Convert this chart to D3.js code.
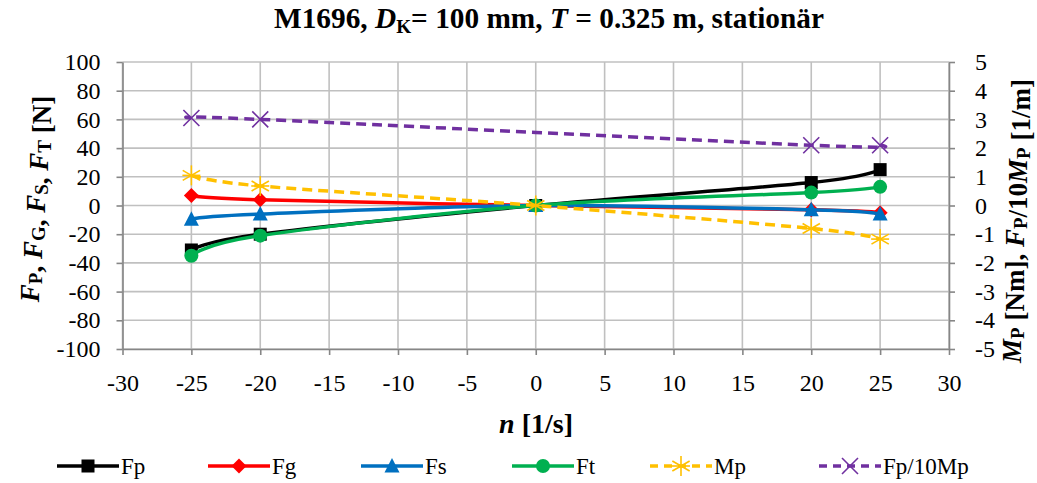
<!DOCTYPE html>
<html>
<head>
<meta charset="utf-8">
<script src="https://cdn.jsdelivr.net/npm/d3@7"></script>
<style>
  html, body { margin: 0; padding: 0; background: #fff; }
  svg { display: block; font-family: "Liberation Serif", "Times New Roman", serif; }
</style>
</head>
<body>
<svg id="chart" width="1037" height="483"></svg>
<script>
// Speed n [1/s]
const speeds = [-25, -20, 0, 20, 25];
// Forces [N] (left axis)
const fp = [-31, -20, 0, 16, 25];
const fg = [7, 4, 0, -3, -5];
const fs = [-9.5, -6, 0, -3, -6];
const ft = [-35, -21, 0, 9, 13];
// Moment [Nm] and Fp/10Mp [1/m] (right axis)
const mp = [1.05, 0.68, 0, -0.8, -1.17];
const speedsRatio = [-25, -20, 20, 25];
const fpRatio = [3.05, 3.0, 2.1, 2.1];

const xTicks = [-30, -25, -20, -15, -10, -5, 0, 5, 10, 15, 20, 25, 30];
const yTicks = [-100, -80, -60, -40, -20, 0, 20, 40, 60, 80, 100];
const y2Ticks = [-5, -4, -3, -2, -1, 0, 1, 2, 3, 4, 5];

const svg = d3.select("#chart");
const L = 122.5, R = 949, T = 62, B = 349;

const x = d3.scaleLinear().domain([-30, 30]).range([L, R]);
const y = d3.scaleLinear().domain([-100, 100]).range([B, T]);
const y2 = d3.scaleLinear().domain([-5, 5]).range([B, T]);

const gridColor = "#c0c0c0", axisColor = "#868686";
const plain = d => String(d);

// grid
const grid = svg.append("g");
grid.selectAll("line.v").data(xTicks).join("line")
  .attr("x1", d => x(d)).attr("x2", d => x(d)).attr("y1", T).attr("y2", B)
  .attr("stroke", gridColor).attr("stroke-width", 1.6);
grid.selectAll("line.h").data(yTicks).join("line")
  .attr("x1", L).attr("x2", R).attr("y1", d => y(d)).attr("y2", d => y(d))
  .attr("stroke", gridColor).attr("stroke-width", 1.6);

// axes
const axisStyle = g => {
  g.select(".domain").attr("stroke", axisColor).attr("stroke-width", 1.6);
  g.selectAll(".tick line").attr("stroke", axisColor).attr("stroke-width", 1.6);
  g.selectAll(".tick text").attr("font-family", "Liberation Serif").attr("font-size", 24).attr("fill", "#000");
};
svg.append("g").attr("transform", `translate(0,${B})`)
  .call(d3.axisBottom(x).tickValues(xTicks).tickSize(6).tickSizeOuter(0).tickPadding(19).tickFormat(plain))
  .call(axisStyle);
svg.append("g").attr("transform", `translate(${L},0)`)
  .call(d3.axisLeft(y).tickValues(yTicks).tickSize(6).tickSizeOuter(0).tickPadding(16).tickFormat(plain))
  .call(axisStyle);
svg.append("g").attr("transform", `translate(${R},0)`)
  .call(d3.axisRight(y2).tickValues(y2Ticks).tickSize(6).tickSizeOuter(0).tickPadding(20).tickFormat(plain))
  .call(axisStyle);

// series
const series = [
  { name: "Fp", xs: speeds, ys: fp, scale: y, color: "#000000", dash: null, marker: "square" },
  { name: "Fg", xs: speeds, ys: fg, scale: y, color: "#ff0000", dash: null, marker: "diamond" },
  { name: "Fs", xs: speeds, ys: fs, scale: y, color: "#0070c0", dash: null, marker: "triangle" },
  { name: "Ft", xs: speeds, ys: ft, scale: y, color: "#00b050", dash: null, marker: "circle" },
  { name: "Mp", xs: speeds, ys: mp, scale: y2, color: "#ffc000", dash: "10,6", marker: "star" },
  { name: "Fp/10Mp", xs: speedsRatio, ys: fpRatio, scale: y2, color: "#7030a0", dash: "10,6", marker: "cross" }
];

function drawMarker(g, type, cx, cy, color) {
  switch (type) {
    case "square":
      g.append("rect").attr("x", cx - 6.5).attr("y", cy - 6.5).attr("width", 13).attr("height", 13).attr("fill", color);
      break;
    case "diamond":
      g.append("path").attr("d", `M${cx},${cy - 7.5}L${cx + 7.5},${cy}L${cx},${cy + 7.5}L${cx - 7.5},${cy}Z`).attr("fill", color);
      break;
    case "triangle":
      g.append("path").attr("d", `M${cx},${cy - 8}L${cx + 7.5},${cy + 6.5}L${cx - 7.5},${cy + 6.5}Z`).attr("fill", color);
      break;
    case "circle":
      g.append("circle").attr("cx", cx).attr("cy", cy).attr("r", 7).attr("fill", color);
      break;
    case "star": {
      const r = 10;
      [0, 60, 120].forEach(a => {
        const t = a * Math.PI / 180;
        g.append("line").attr("x1", cx - r * Math.sin(t)).attr("y1", cy - r * Math.cos(t))
          .attr("x2", cx + r * Math.sin(t)).attr("y2", cy + r * Math.cos(t))
          .attr("stroke", color).attr("stroke-width", 1.6);
      });
      g.append("line").attr("x1", cx - r * 0.9).attr("x2", cx + r * 0.9).attr("y1", cy).attr("y2", cy)
        .attr("stroke", color).attr("stroke-width", 1.6);
      break;
    }
    case "cross": {
      const r = 8;
      g.append("path").attr("d", `M${cx - r},${cy - r}L${cx + r},${cy + r}M${cx - r},${cy + r}L${cx + r},${cy - r}`)
        .attr("stroke", color).attr("stroke-width", 1.6).attr("fill", "none");
      break;
    }
  }
}

const plot = svg.append("g");
series.forEach(s => {
  const pts = s.xs.map((v, i) => [x(v), s.scale(s.ys[i])]);
  const line = d3.line().curve(d3.curveCatmullRom.alpha(0));
  const g = plot.append("g");
  g.append("path").attr("d", line(pts)).attr("fill", "none").attr("stroke", s.color)
    .attr("stroke-width", 3.5).attr("stroke-dasharray", s.dash).attr("stroke-linecap", s.dash ? "butt" : "round");
  pts.forEach(p => drawMarker(g, s.marker, p[0], p[1], s.color));
});

// title
const title = svg.append("text").attr("x", 549).attr("y", 28).attr("text-anchor", "middle")
  .attr("font-size", 29).attr("font-weight", "bold")
  .attr("textLength", 550).attr("lengthAdjust", "spacingAndGlyphs");
title.append("tspan").text("M1696, ");
title.append("tspan").attr("font-style", "italic").text("D");
title.append("tspan").attr("font-size", 19).attr("dy", 5).text("K");
title.append("tspan").attr("dy", -5).text("= 100 mm, ");
title.append("tspan").attr("font-style", "italic").text("T");
title.append("tspan").text(" = 0.325 m, stationär");

// axis titles
const xt = svg.append("text").attr("x", 536).attr("y", 433).attr("text-anchor", "middle")
  .attr("font-size", 28).attr("font-weight", "bold");
xt.append("tspan").attr("font-style", "italic").text("n");
xt.append("tspan").text(" [1/s]");

function subLabel(parent, parts) {
  parts.forEach(p => {
    if (p.sub) {
      parent.append("tspan").attr("font-size", 19).attr("dy", 3).text(p.sub);
      parent.append("tspan").attr("dy", -3).text("");
    } else {
      parent.append("tspan").attr("font-style", p.it ? "italic" : null).text(p.t);
    }
  });
}

const yl = svg.append("text").attr("transform", "translate(39,199) rotate(-90)").attr("text-anchor", "middle")
  .attr("font-size", 27).attr("font-weight", "bold");
subLabel(yl, [{ t: "F", it: true }, { sub: "P" }, { t: ", " }, { t: "F", it: true }, { sub: "G" }, { t: ", " },
  { t: "F", it: true }, { sub: "S" }, { t: ", " }, { t: "F", it: true }, { sub: "T" }, { t: " [N]" }]);

const yr = svg.append("text").attr("transform", "translate(1021,221) rotate(-90)").attr("text-anchor", "middle")
  .attr("font-size", 27).attr("font-weight", "bold");
subLabel(yr, [{ t: "M", it: true }, { sub: "P" }, { t: " [Nm], " }, { t: "F", it: true }, { sub: "P" }, { t: "/10" },
  { t: "M", it: true }, { sub: "P" }, { t: " [1/m]" }]);

// legend
const legendX = [57, 208, 361, 512, 650, 819];
const leg = svg.append("g");
series.forEach((s, i) => {
  const x0 = legendX[i], yy = 466, w = 62;
  const g = leg.append("g");
  g.append("line").attr("x1", x0).attr("x2", x0 + w).attr("y1", yy).attr("y2", yy)
    .attr("stroke", s.color).attr("stroke-width", 3.5).attr("stroke-dasharray", s.dash ? "8,6" : null);
  drawMarker(g, s.marker, x0 + w / 2, yy, s.color);
  g.append("text").attr("x", x0 + w + 2).attr("y", yy + 8).attr("font-size", 23).text(s.name);
});
</script>
</body>
</html>
